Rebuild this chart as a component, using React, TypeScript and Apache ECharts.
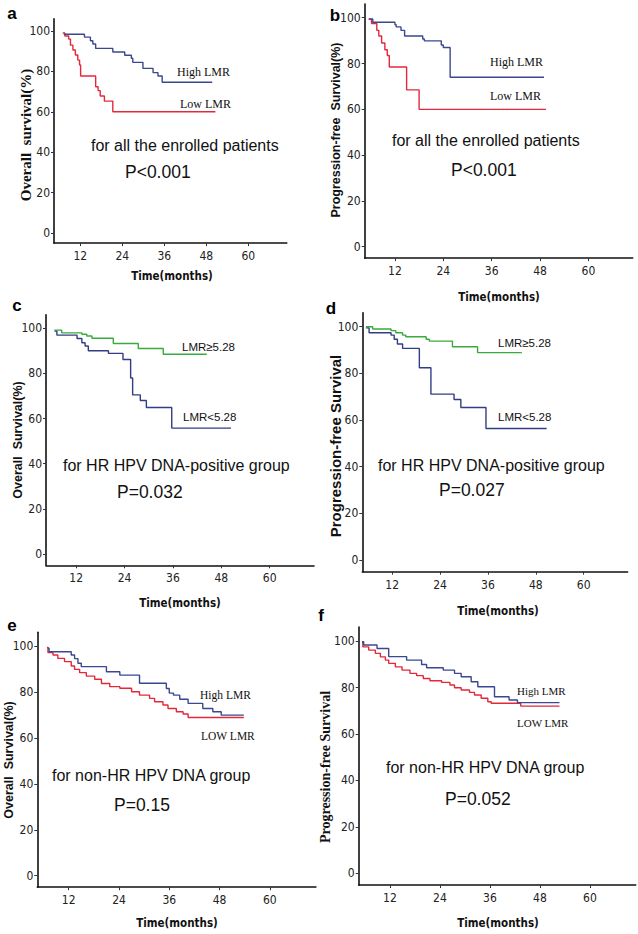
import React, { useEffect, useRef } from "react";
import * as echarts from "echarts";

// Tick values
const yTicks = [0, 20, 40, 60, 80, 100];
const xTicks = [12, 24, 36, 48, 60];

// Kaplan-Meier curves: [time (months), survival (%)]
const aHigh = [[7.3,98.4],[13.2,97],[14.9,95.2],[15.6,93.6],[16.4,91.4],[21.3,89.6],[24.7,88],[26.6,86.5],[27,84.5],[29.9,81.5],[32.8,79.4],[34.2,77.7],[35.4,74.6],[49.7,74.6]];
const aLow = [[7,99],[7.6,97.5],[8.7,96],[9.2,93],[9.9,90.6],[10.6,88.1],[11.3,85.6],[11.8,83.2],[12.1,77.7],[16.4,72.4],[17.1,70.5],[17.7,67.8],[18.9,65.3],[21.3,60],[50.6,60]];
const bHigh = [[5.5,99.5],[6.5,98],[12,97],[12.3,96],[13.5,94.5],[14.4,92],[18.9,90.7],[19.3,89.9],[23.5,88.1],[24,87],[25.7,74],[49,74]];
const bLow = [[5.5,99.3],[6.2,97.5],[7.5,94.5],[8,92],[8.7,89],[9.5,86],[10.1,83.5],[10.6,78.5],[14.9,68.5],[18,60],[49.5,60]];
const cHigh = [[6.6,99.2],[8.4,98],[13.4,97.4],[14.6,96.6],[15.9,95.6],[21.2,93.3],[27.4,91.1],[33.6,88.5],[44.4,88.5]];
const cLow = [[6.6,98.8],[7.2,97],[12.2,95.5],[13.4,93.6],[14.2,92.2],[15,90.1],[20,88.9],[23.6,86.2],[25.5,78],[26,70.5],[27.9,68],[29.4,64.9],[35.7,55.8],[50.4,55.8]];
const dHigh = [[5.4,100],[7.1,99],[11.7,98.3],[12.9,97.4],[14.6,96.4],[15.4,95.7],[20.5,94.6],[21.3,93.8],[27.1,91.4],[33.4,88.9],[44.5,88.9]];
const dLow = [[5.4,99.5],[6.2,97.4],[11.7,96.4],[12.5,94.6],[13.3,92.6],[14.6,90.7],[18.8,82.4],[21.7,71.1],[27.5,68.8],[29.2,65.4],[35.5,56.4],[50.7,56.4]];
const eHigh = [[7,99],[7.3,97.5],[12.6,96.1],[13.4,94.5],[14.2,92.5],[15,91],[21,88.8],[24.2,87.3],[28.9,83.8],[35.3,81.5],[36,79.5],[37,78.6],[38.5,76.8],[40.5,75],[44,72.8],[46.4,71.4],[48.4,69.9],[53.8,69.9]];
const eLow = [[6.8,99.4],[7.05,97.1],[8.25,96.1],[9.4,94.6],[11,93.2],[12.6,91.3],[13.4,89.8],[14.6,88.4],[16.2,86.9],[18.2,85.5],[19.8,83.7],[21.8,82.3],[24.2,81.6],[27,80.1],[28.9,78.6],[31.3,77.2],[32.5,75.7],[34.5,74.3],[35.7,72.8],[37.7,71.4],[39.3,70.4],[40.5,68.9],[53.8,68.9]];
const fHigh = [[5.3,99.7],[5.7,98.3],[8.9,96.8],[11.7,93.3],[16,91.8],[19.6,89.9],[20.8,88.5],[24.8,87.5],[27.5,86.1],[29.1,84.6],[31.5,82.5],[33.1,80.3],[37.1,76],[40.6,74.6],[42.6,73.5],[52.7,73.5]];
const fLow = [[5.3,99.4],[5.5,97.5],[6.9,96.1],[8.5,94.7],[9.7,93.2],[10.9,91.8],[11.7,90.4],[13.3,88.9],[14.9,87.5],[16.8,86.1],[18.4,85.1],[20,83.9],[21.6,82.9],[24.4,82.2],[26.4,81.1],[27.5,79.9],[29.1,78.9],[31.1,77.9],[32.3,76.8],[33.9,75.4],[35.5,73.9],[36.3,73.2],[43.4,72],[52.7,72]];

// Texts
const panelLetters = ["a", "b", "c", "d", "e", "f"];
const yTitles = ["Overall  survival(%)", "Progression-free  Survival(%)", "Overall  Survival(%)", "Progression-free Survival", "Overall  Survival(%)", "Progression-free Survival"];
const xTitle = "Time(months)";
const groupTexts = ["for all the enrolled patients", "for all the enrolled patients", "for HR HPV DNA-positive group", "for HR HPV DNA-positive group", "for non-HR HPV DNA group", "for non-HR HPV DNA group"];
const pTexts = ["P<0.001", "P<0.001", "P=0.032", "P=0.027", "P=0.15", "P=0.052"];
const highNames = ["High LMR", "High LMR", "LMR≥5.28", "LMR≥5.28", "High LMR", "High LMR"];
const lowNames = ["Low LMR", "Low LMR", "LMR<5.28", "LMR<5.28", "LOW LMR", "LOW LMR"];

const highData = [aHigh, bHigh, cHigh, dHigh, eHigh, fHigh];
const lowData = [aLow, bLow, cLow, dLow, eLow, fLow];

const BLUE = "#3b4790";
const RED = "#e3283a";
const GREEN = "#3aaa3e";
const NARROW = "'Liberation Sans Narrow','Arial Narrow','DejaVu Sans Condensed','Liberation Sans',Arial,sans-serif";
const SANS = "'Liberation Sans',Arial,Helvetica,sans-serif";
const SERIF = "'Liberation Serif','Times New Roman',Times,serif";

// layout per panel
const layout = [
  { grid: { left: 54, top: 18.9, width: 232.8, height: 224.2 }, letter: [12, 13], yT: [26, 135, SERIF, 15], xT: [172, 276], hi: [177, 72, SERIF, 12], lo: [180, 104], grp: [91, 145], p: [125, 172], hiC: BLUE, loC: RED },
  { grid: { left: 364.7, top: 4, width: 268, height: 254.2 }, letter: [335, 15], yT: [336, 130, SANS, 12.5], xT: [499, 297], hi: [490, 62, SERIF, 12], lo: [490, 96], grp: [392, 140], p: [451, 170], hiC: BLUE, loC: RED },
  { grid: { left: 46, top: 314.8, width: 268, height: 250.5 }, letter: [17, 305], yT: [18, 440, SANS, 12.5], xT: [180, 603], hi: [182, 347, SANS, 11.5], lo: [183, 417], grp: [63, 465], p: [117, 492], hiC: GREEN, loC: "#323d85" },
  { grid: { left: 362.3, top: 312.7, width: 265.3, height: 259 }, letter: [331, 308], yT: [335, 446, SANS, 15], xT: [498, 611], hi: [498, 343, SANS, 11.5], lo: [498, 417], grp: [378, 465], p: [439, 490], hiC: GREEN, loC: "#323d85" },
  { grid: { left: 37.3, top: 632.2, width: 278.6, height: 255 }, letter: [12, 625], yT: [9, 760, SANS, 12.5], xT: [177, 923], hi: [200, 695, SERIF, 11.5], lo: [201, 736], grp: [52, 775], p: [114, 805], hiC: BLUE, loC: RED },
  { grid: { left: 358.7, top: 627.1, width: 277, height: 257.9 }, letter: [321, 615], yT: [325, 767, SERIF, 14], xT: [498, 923], hi: [517, 691, SERIF, 11], lo: [517, 723], grp: [386, 767], p: [445, 799], hiC: BLUE, loC: RED },
];

export default function App() {
  const ref = useRef<HTMLDivElement>(null);
  useEffect(() => {
    if (!ref.current) return;
    const chart = echarts.init(ref.current, null, { renderer: "svg", width: 638, height: 934 });
    const grids: any[] = [];
    const xAxes: any[] = [];
    const yAxes: any[] = [];
    const series: any[] = [];
    const graphics: any[] = [];
    layout.forEach((L, i) => {
      grids.push({ ...L.grid, containLabel: false });
      xAxes.push({
        type: "value", gridIndex: i, min: 4.5, max: 71, position: "bottom",
        axisLine: { onZero: false, lineStyle: { color: "#111", width: 1.6 } },
        axisTick: { show: true, length: 3, lineStyle: { color: "#333" }, customValues: xTicks },
        axisLabel: { customValues: xTicks, margin: 7, fontSize: 12, fontFamily: NARROW, color: "#222" },
        splitLine: { show: false },
      });
      yAxes.push({
        type: "value", gridIndex: i, min: -5, max: 106,
        axisLine: { show: true, onZero: false, lineStyle: { color: "#111", width: 1.6 } },
        axisTick: { show: true, length: 3, lineStyle: { color: "#333" }, customValues: yTicks },
        axisLabel: { customValues: yTicks, margin: 4, fontSize: 12, fontFamily: NARROW, color: "#222" },
        splitLine: { show: false },
      });
      series.push({
        type: "line", step: "end", xAxisIndex: i, yAxisIndex: i, data: highData[i], showSymbol: false,
        lineStyle: { color: L.hiC, width: 1.4 }, itemStyle: { color: L.hiC }, z: 3,
      });
      series.push({
        type: "line", step: "end", xAxisIndex: i, yAxisIndex: i, data: lowData[i], showSymbol: false,
        lineStyle: { color: L.loC, width: 1.4 }, itemStyle: { color: L.loC }, z: 2,
      });
      graphics.push({ type: "text", x: L.letter[0], y: L.letter[1], style: { text: panelLetters[i], font: `bold 17px ${SANS}`, fill: "#000", align: "center", verticalAlign: "middle" } });
      graphics.push({ type: "text", x: L.yT[0], y: L.yT[1], rotation: Math.PI / 2, style: { text: yTitles[i], font: `bold ${L.yT[3]}px ${L.yT[2]}`, fill: "#111", align: "center", verticalAlign: "middle" } });
      graphics.push({ type: "text", x: L.xT[0], y: L.xT[1], style: { text: xTitle, font: `bold 11.5px ${NARROW}`, fill: "#111", align: "center", verticalAlign: "middle" } });
      graphics.push({ type: "text", x: L.hi[0], y: L.hi[1], style: { text: highNames[i], font: `${L.hi[3]}px ${L.hi[2]}`, fill: "#111", align: "left", verticalAlign: "middle" } });
      graphics.push({ type: "text", x: L.lo[0], y: L.lo[1], style: { text: lowNames[i], font: `${L.hi[3]}px ${L.hi[2]}`, fill: "#111", align: "left", verticalAlign: "middle" } });
      graphics.push({ type: "text", x: L.grp[0], y: L.grp[1], style: { text: groupTexts[i], font: `16px ${SANS}`, fill: "#111", align: "left", verticalAlign: "middle" } });
      graphics.push({ type: "text", x: L.p[0], y: L.p[1], style: { text: pTexts[i], font: `17.5px ${SANS}`, fill: "#111", align: "left", verticalAlign: "middle" } });
    });
    chart.setOption({
      animation: false,
      backgroundColor: "#fff",
      grid: grids,
      xAxis: xAxes,
      yAxis: yAxes,
      series,
      graphic: graphics,
    });
    return () => chart.dispose();
  }, []);
  return <div ref={ref} style={{ position: "absolute", left: 0, top: 0, width: 638, height: 934, background: "#fff" }} />;
}
